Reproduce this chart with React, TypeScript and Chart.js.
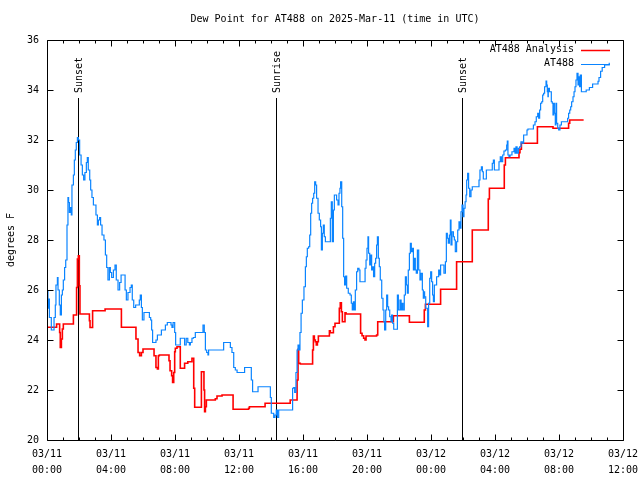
import React, { useEffect, useRef } from "react";
import { Chart, registerables } from "chart.js";

Chart.register(...registerables);

const TITLE = "Dew Point for AT488 on 2025-Mar-11 (time in UTC)";
const Y_LABEL = "degrees F";
const SERIES_NAMES = ["AT488 Analysis", "AT488"];
const SERIES_COLORS = ["#ff0000", "#0a84ff"];

const X_TICK_HOURS = [0, 4, 8, 12, 16, 20, 24, 28, 32, 36];
const X_TICK_DATES = ["03/11", "03/11", "03/11", "03/11", "03/11", "03/11", "03/12", "03/12", "03/12", "03/12"];
const X_TICK_TIMES = ["00:00", "04:00", "08:00", "12:00", "16:00", "20:00", "00:00", "04:00", "08:00", "12:00"];
const Y_TICKS = [20, 22, 24, 26, 28, 30, 32, 34, 36];

const EVENT_HOURS = [1.94, 14.31, 25.94];
const EVENT_LABELS = ["Sunset", "Sunrise", "Sunset"];

// AT488 observations (hours since 03/11 00:00 UTC, deg F)
const OBS_HOURS = [
  0, 0.06, 0.1, 0.15, 0.27, 0.4, 0.44, 0.52, 0.56, 0.65, 0.69, 0.77, 0.83, 0.9, 0.96, 1.02, 1.1, 1.17, 1.25, 1.31,
  1.35, 1.4, 1.46, 1.52, 1.56, 1.65, 1.71, 1.77, 1.83, 1.9, 1.96, 2.04, 2.13, 2.21, 2.29, 2.37, 2.46, 2.52, 2.58, 2.67,
  2.73, 2.81, 2.9, 3.06, 3.15, 3.21, 3.29, 3.35, 3.44, 3.56, 3.65, 3.73, 3.81, 3.9, 3.96, 4.04, 4.15, 4.25, 4.33, 4.44,
  4.54, 4.63, 4.88, 4.96, 5.06, 5.19, 5.27, 5.33, 5.42, 5.54, 5.77, 5.83, 5.9, 5.96, 6.06, 6.4, 6.48, 6.54, 6.6, 6.81,
  6.9, 7.15, 7.4, 7.52, 7.75, 7.81, 7.88, 7.98, 8.04, 8.33, 8.6, 8.7, 8.8, 8.9, 8.96, 9.06, 9.15, 9.27, 9.75, 9.83,
  9.9, 9.98, 10.06, 10.1, 11.04, 11.46, 11.56, 11.67, 11.77, 11.88, 12.35, 12.77, 12.85, 13.19, 13.96, 14.02, 14.17, 14.25, 14.33, 14.4,
  14.48, 15.35, 15.42, 15.48, 15.56, 15.63, 15.69, 15.75, 15.81, 15.88, 15.96, 16.06, 16.15, 16.21, 16.27, 16.35, 16.42, 16.48, 16.54, 16.6,
  16.67, 16.73, 16.79, 16.85, 16.94, 17.02, 17.1, 17.15, 17.21, 17.27, 17.33, 17.4, 17.71, 17.77, 17.83, 17.9, 17.96, 18.1, 18.19, 18.25,
  18.31, 18.35, 18.42, 18.48, 18.54, 18.6, 18.67, 18.73, 18.83, 18.94, 19.02, 19.08, 19.15, 19.21, 19.27, 19.35, 19.42, 19.5, 19.56, 19.88,
  19.94, 20.0, 20.06, 20.1, 20.17, 20.23, 20.29, 20.35, 20.41, 20.48, 20.54, 20.6, 20.65, 20.71, 20.77, 20.83, 20.92, 21.0, 21.06, 21.1,
  21.17, 21.23, 21.29, 21.35, 21.42, 21.5, 21.54, 21.6, 21.67, 21.9, 21.96, 22.06, 22.13, 22.19, 22.25, 22.33, 22.4, 22.46, 22.52, 22.58,
  22.65, 22.71, 22.77, 22.83, 22.9, 22.96, 23.02, 23.08, 23.15, 23.23, 23.31, 23.38, 23.46, 23.52, 23.58, 23.6, 23.67, 23.79, 23.85, 23.92,
  23.98, 24.04, 24.1, 24.15, 24.21, 24.35, 24.48, 24.54, 24.6, 24.81, 24.9, 24.96, 25.02, 25.08, 25.15, 25.21, 25.25, 25.31, 25.4, 25.46,
  25.52, 25.6, 25.67, 25.75, 25.81, 25.875, 25.94, 26.0, 26.06, 26.13, 26.19, 26.23, 26.29, 26.35, 26.42, 26.5, 26.58, 27.0, 27.06, 27.15,
  27.21, 27.27, 27.46, 27.83, 27.9, 27.96, 28.25, 28.33, 28.4, 28.48, 28.56, 28.65, 28.73, 28.77, 28.81, 28.875, 28.94, 29.06, 29.19, 29.25,
  29.31, 29.38, 29.46, 29.54, 29.625, 29.71, 29.79, 30.0, 30.06, 30.4, 30.5, 30.58, 30.67, 30.73, 30.79, 30.85, 30.92, 30.98, 31.04, 31.1,
  31.19, 31.23, 31.27, 31.31, 31.33, 31.4, 31.52, 31.58, 31.625, 31.67, 31.71, 31.77, 31.81, 31.85, 31.92, 31.98, 32.06, 32.15, 32.54, 32.6,
  32.67, 32.73, 32.79, 32.875, 32.94, 33.0, 33.06, 33.125, 33.19, 33.25, 33.29, 33.33, 33.4, 33.5, 33.7, 33.9, 34.1, 34.44, 34.5, 34.6,
  34.7, 34.85, 35.14,
];
const OBS_VALUES = [
  25.97, 25.27, 25.64, 24.9, 24.4, 24.4, 24.9, 25.4, 26.2, 26.5, 26.0, 25.4, 25.0, 25.8, 26.0, 26.4, 26.9, 27.2, 28.6, 29.7,
  29.5, 29.1, 29.3, 29.0, 30.2, 30.6, 31.2, 31.6, 31.9, 32.1, 32.0, 31.4, 31.0, 30.6, 30.4, 30.7, 31.1, 31.3, 30.8, 30.4,
  30.0, 29.7, 29.4, 29.0, 28.6, 28.8, 28.9, 28.6, 28.2, 28.0, 27.4, 26.9, 26.4, 26.9, 26.7, 26.5, 26.8, 27.0, 26.4, 26.0,
  26.3, 26.6, 26.0, 25.6, 25.9, 26.1, 26.2, 25.6, 25.3, 25.4, 25.6, 25.8, 25.3, 24.8, 25.1, 24.9, 24.8, 24.4, 23.9, 24.0,
  24.2, 24.4, 24.6, 24.7, 24.6, 24.5, 24.7, 24.3, 23.8, 24.07, 23.8, 24.07, 23.9, 23.8, 23.9, 24.07, 24.1, 24.3, 24.6, 24.3,
  23.6, 23.5, 23.4, 23.6, 23.9, 23.7, 23.5, 22.9, 22.8, 22.7, 22.9, 22.4, 21.93, 22.13, 21.7, 21.07, 20.9, 21.0, 21.2, 20.9,
  21.2, 22.07, 22.1, 21.9, 22.7, 23.6, 23.8, 23.6, 24.3, 25.07, 25.6, 26.13, 26.93, 27.33, 27.67, 27.73, 28.2, 29.07, 29.47, 29.67,
  29.87, 30.33, 30.2, 29.67, 29.07, 28.8, 28.53, 27.6, 28.27, 28.6, 28.13, 27.93, 28.87, 29.53, 27.93, 29.2, 29.8, 29.6, 29.4, 29.87,
  30.07, 30.33, 29.33, 28.07, 26.53, 26.2, 26.56, 26.07, 25.87, 25.8, 25.47, 25.2, 25.53, 25.2, 26.0, 26.73, 26.87, 26.8, 26.33, 26.87,
  27.2, 27.67, 28.13, 27.47, 27.0, 27.4, 26.8, 26.93, 26.53, 27.07, 27.27, 27.8, 28.13, 27.27, 26.93, 26.4, 25.67, 25.2, 24.73, 24.4,
  25.2, 25.8, 25.33, 25.2, 24.93, 24.73, 25.0, 24.67, 24.43, 25.8, 25.2, 25.6, 25.2, 25.47, 25.2, 25.8, 26.53, 26.2, 25.87, 26.8,
  27.47, 27.87, 27.53, 27.67, 26.8, 27.27, 26.8, 26.67, 27.6, 26.8, 26.4, 26.67, 26.0, 25.67, 25.93, 25.73, 25.27, 24.53, 25.47, 26.47,
  26.73, 26.33, 25.8, 25.53, 26.2, 26.53, 26.8, 26.6, 27.0, 26.67, 27.13, 28.27, 28.07, 27.87, 28.2, 28.8, 27.8, 28.33, 28.13, 28.0,
  27.53, 27.93, 28.4, 28.73, 28.47, 29.13, 29.4, 28.93, 29.27, 29.53, 29.8, 30.4, 30.67, 30.07, 29.73, 30.0, 30.13, 30.4, 30.8, 30.93,
  30.73, 30.44, 30.8, 31.07, 31.2, 30.8, 31.13, 31.33, 31.13, 31.4, 31.56, 31.6, 31.8, 31.96, 31.4, 31.33, 31.4, 31.53, 31.67, 31.47,
  31.73, 31.47, 31.67, 31.73, 31.93, 31.87, 32.2, 32.4, 32.44, 32.6, 32.73, 32.93, 33.07, 32.87, 33.2, 33.47, 33.53, 33.8, 33.87, 34.13,
  34.36, 34.2, 33.93, 33.73, 34.07, 33.93, 33.53, 33.47, 33.0, 33.47, 33.07, 32.6, 33.47, 32.67, 32.47, 32.4, 32.6, 32.73, 32.87, 33.07,
  33.2, 33.33, 33.53, 33.73, 33.93, 34.13, 34.4, 34.67, 34.2, 34.53, 34.13, 34.6, 33.93, 33.93, 34.0, 34.1, 34.24, 34.35, 34.5, 34.75,
  34.9, 35.0, 35.09,
];

// AT488 Analysis
const ANA_HOURS = [
  0, 0.6, 0.79, 0.83, 0.9, 0.96, 1.02, 1.65, 1.85, 1.9, 1.96, 2.02, 2.06, 2.65, 2.69, 2.85, 3.63, 4.65, 5.56, 5.69,
  5.79, 5.9, 6.0, 6.69, 6.81, 6.9, 6.96, 7.02, 7.625, 7.69, 7.79, 7.85, 7.92, 7.98, 8.02, 8.125, 8.33, 8.6, 8.8, 9.06,
  9.17, 9.23, 9.65, 9.81, 9.85, 9.9, 9.96, 10.52, 10.625, 10.94, 11.63, 12.6, 12.65, 13.63, 15.2, 15.63, 15.69, 15.73, 15.83, 16.6,
  16.65, 16.71, 16.77, 16.83, 16.9, 16.96, 17.65, 17.71, 17.9, 18.0, 18.27, 18.33, 18.4, 18.46, 18.625, 18.69, 19.6, 19.69, 19.79, 19.875,
  19.94, 20.6, 20.67, 21.65, 22.65, 23.58, 23.65, 24.6, 25.6, 26.58, 27.58, 27.65, 28.58, 28.65, 29.5, 29.56, 29.65, 30.65, 31.625, 32.6,
  32.67, 33.54,
];
const ANA_VALUES = [
  24.51, 24.64, 24.3, 23.7, 24.04, 24.44, 24.64, 25.0, 26.1, 27.24, 27.37, 26.17, 25.04, 24.77, 24.5, 25.17, 25.24, 24.51, 24.04, 23.5,
  23.37, 23.5, 23.64, 23.37, 22.9, 22.84, 23.37, 23.4, 23.17, 22.77, 22.57, 22.3, 22.7, 23.53, 23.67, 23.73, 22.87, 23.07, 23.13, 23.27,
  22.07, 21.31, 22.73, 22.0, 21.13, 21.33, 21.6, 21.65, 21.76, 21.8, 21.23, 21.27, 21.33, 21.47, 21.6, 22.4, 23.63, 23.07, 23.04, 23.6,
  24.16, 24.0, 23.93, 23.8, 23.93, 24.16, 24.37, 24.29, 24.53, 24.67, 25.27, 25.49, 25.13, 24.73, 25.09, 25.04, 24.27, 24.17, 24.07, 24.0,
  24.16, 24.2, 24.73, 24.97, 24.71, 25.2, 25.43, 26.03, 27.13, 28.4, 29.64, 30.07, 31.0, 31.29, 31.49, 31.63, 31.87, 32.53, 32.47, 32.67,
  32.8, 32.8,
];

const FONT = '"DejaVu Sans Mono", "Liberation Mono", monospace';

export default function App() {
  const ref = useRef<HTMLCanvasElement>(null);

  useEffect(() => {
    const canvas = ref.current;
    if (!canvas) return;

    const decor = {
      id: "decor",
      beforeDatasetsDraw(chart: any) {
        const { ctx, chartArea: a, scales } = chart;
        const xs = scales.x;
        ctx.save();
        ctx.strokeStyle = "#000";
        ctx.lineWidth = 1;
        ctx.font = `10px ${FONT}`;
        ctx.fillStyle = "#000";
        EVENT_HOURS.forEach((h, i) => {
          const x = Math.round(xs.getPixelForValue(h)) + 0.5;
          ctx.beginPath();
          ctx.moveTo(x, a.top + 58);
          ctx.lineTo(x, a.bottom);
          ctx.stroke();
          ctx.save();
          ctx.translate(x + 1, a.top + 53);
          ctx.rotate(-Math.PI / 2);
          ctx.textAlign = "left";
          ctx.textBaseline = "middle";
          ctx.fillText(EVENT_LABELS[i], 0, 0);
          ctx.restore();
        });
        ctx.restore();
      },
      afterDraw(chart: any) {
        const { ctx, chartArea: a, scales } = chart;
        const xs = scales.x;
        const ys = scales.y;
        ctx.save();
        ctx.strokeStyle = "#000";
        ctx.lineWidth = 1;
        const L = Math.round(a.left) + 0.5;
        const R = Math.round(a.right) + 0.5;
        const T = Math.round(a.top) + 0.5;
        const B = Math.round(a.bottom) + 0.5;
        ctx.beginPath();
        ctx.rect(L, T, R - L, B - T);
        ctx.stroke();
        // x ticks (hourly minor, 4-hourly major), bottom and mirrored at top
        ctx.beginPath();
        for (let h = X_TICK_HOURS[0]; h <= X_TICK_HOURS[X_TICK_HOURS.length - 1]; h++) {
          const x = Math.round(xs.getPixelForValue(h)) + 0.5;
          const len = X_TICK_HOURS.includes(h) ? 6 : 3;
          ctx.moveTo(x, B);
          ctx.lineTo(x, B - len);
          ctx.moveTo(x, T);
          ctx.lineTo(x, T + len);
        }
        Y_TICKS.forEach((v) => {
          const y = Math.round(ys.getPixelForValue(v)) + 0.5;
          ctx.moveTo(L, y);
          ctx.lineTo(L + 6, y);
          ctx.moveTo(R, y);
          ctx.lineTo(R - 6, y);
        });
        ctx.stroke();

        ctx.fillStyle = "#000";
        ctx.font = `10px ${FONT}`;
        // title
        ctx.textAlign = "center";
        ctx.textBaseline = "middle";
        ctx.fillText(TITLE, (a.left + a.right) / 2, 19);
        // y label
        ctx.save();
        ctx.translate(11, (a.top + a.bottom) / 2);
        ctx.rotate(-Math.PI / 2);
        ctx.textAlign = "center";
        ctx.textBaseline = "middle";
        ctx.fillText(Y_LABEL, 0, 0);
        ctx.restore();
        // legend
        ctx.textAlign = "right";
        SERIES_NAMES.forEach((name, i) => {
          const y = a.top + 9.5 + i * 14;
          ctx.fillStyle = "#000";
          ctx.fillText(name, a.right - 49, y);
          ctx.strokeStyle = SERIES_COLORS[i];
          ctx.lineWidth = i === 0 ? 1.5 : 1;
          ctx.beginPath();
          ctx.moveTo(a.right - 42, Math.round(y) + 0.5);
          ctx.lineTo(a.right - 13, Math.round(y) + 0.5);
          ctx.stroke();
        });
        ctx.restore();
      },
    };

    const chart = new Chart(canvas, {
      type: "line",
      data: {
        datasets: [
          {
            label: SERIES_NAMES[0],
            data: ANA_HOURS.map((h, i) => ({ x: h, y: ANA_VALUES[i] })),
            borderColor: SERIES_COLORS[0],
            borderWidth: 1.6,
            pointRadius: 0,
            stepped: true,
            fill: false,
            order: 1,
          },
          {
            label: SERIES_NAMES[1],
            data: OBS_HOURS.map((h, i) => ({ x: h, y: OBS_VALUES[i] })),
            borderColor: SERIES_COLORS[1],
            borderWidth: 1.2,
            pointRadius: 0,
            stepped: true,
            fill: false,
            order: 0,
          },
        ],
      },
      plugins: [decor],
      options: {
        animation: false,
        responsive: false,
        events: [],
        layout: { padding: { top: 40, right: 17, left: 0, bottom: 0 } },
        plugins: {
          legend: { display: false },
          title: { display: false },
          tooltip: { enabled: false },
        },
        scales: {
          x: {
            type: "linear",
            min: X_TICK_HOURS[0],
            max: X_TICK_HOURS[X_TICK_HOURS.length - 1],
            afterBuildTicks: (s: any) => {
              s.ticks = X_TICK_HOURS.map((v) => ({ value: v }));
            },
            afterFit: (s: any) => {
              s.height = 40;
              s.paddingLeft = 0;
              s.paddingRight = 0;
            },
            ticks: {
              autoSkip: false,
              maxRotation: 0,
              minRotation: 0,
              padding: 6,
              color: "#000",
              font: { family: FONT, size: 10, lineHeight: 1.6 },
              callback: (_v: any, i: number) => [X_TICK_DATES[i], X_TICK_TIMES[i]],
            },
            grid: { display: false, drawTicks: false },
            border: { display: false },
          },
          y: {
            type: "linear",
            min: Y_TICKS[0],
            max: Y_TICKS[Y_TICKS.length - 1],
            afterBuildTicks: (s: any) => {
              s.ticks = Y_TICKS.map((v) => ({ value: v }));
            },
            afterFit: (s: any) => {
              s.width = 47;
              s.paddingTop = 0;
              s.paddingBottom = 0;
            },
            ticks: {
              padding: 8,
              color: "#000",
              font: { family: FONT, size: 10 },
              callback: (v: any) => String(v),
            },
            grid: { display: false, drawTicks: false },
            border: { display: false },
          },
        },
      },
    });

    return () => chart.destroy();
  }, []);

  return (
    <div style={{ position: "fixed", left: 0, top: 0, width: 640, height: 480, background: "#fff" }}>
      <canvas ref={ref} width={640} height={480} style={{ width: 640, height: 480, display: "block" }} />
    </div>
  );
}
